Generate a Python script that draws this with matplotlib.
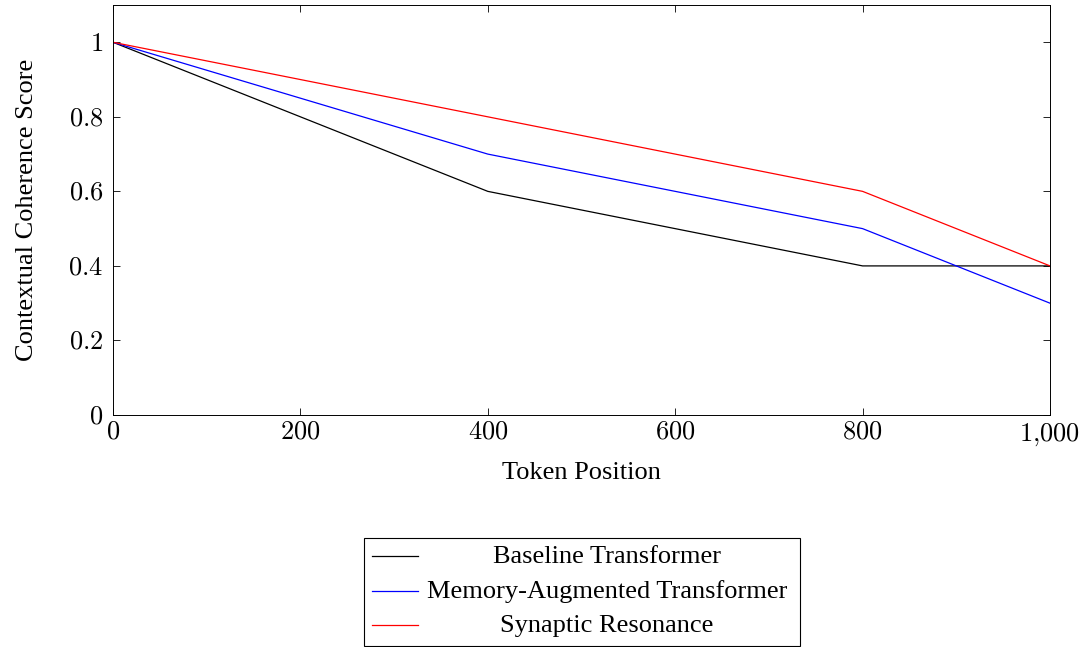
import matplotlib.pyplot as plt
from matplotlib.lines import Line2D
from matplotlib.patches import Rectangle

plt.rcParams['font.family'] = ['Liberation Serif', 'DejaVu Serif']
plt.rcParams['mathtext.fontset'] = 'cm'

tokens = [0, 400, 800, 1000]
baseline = [1.0, 0.6, 0.4, 0.4]
memory = [1.0, 0.7, 0.5, 0.3]
synaptic = [1.0, 0.8, 0.6, 0.4]

labels = ['Baseline Transformer', 'Memory-Augmented Transformer', 'Synaptic Resonance']
colors = ['black', 'blue', 'red']
xticks = [0, 200, 400, 600, 800, 1000]
xtick_labels = ['0', '200', '400', '600', '800', '1{,}000']
yticks = [0, 0.2, 0.4, 0.6, 0.8, 1.0]
ytick_labels = ['0', '0.2', '0.4', '0.6', '0.8', '1']

W, H = 1086, 647
fig = plt.figure(figsize=(W / 100, H / 100), dpi=100)
ax = fig.add_axes([113 / W, 1 - 415 / H, (1050 - 113) / W, (415 - 5) / H])

for ys, c in zip([baseline, memory, synaptic], colors):
    ax.plot(tokens, ys, color=c, lw=0.9)

ax.set_xlim(0, 1000)
ax.set_ylim(0, 1.1)
ax.set_xticks(xticks)
ax.set_xticklabels(['$' + t + '$' for t in xtick_labels])
ax.set_yticks(yticks)
ax.set_yticklabels(['$' + t + '$' for t in ytick_labels])
ax.tick_params(direction='in', top=True, right=True, labelsize=19, length=5, width=0.6)
ax.tick_params(axis='x', pad=5)
ax.tick_params(axis='y', pad=7)
for s in ax.spines.values():
    s.set_linewidth(0.7)
ax.set_xlabel('Token Position', fontsize=19, labelpad=10)
ax.set_ylabel('Contextual Coherence Score', fontsize=19, labelpad=22)

# legend box below the axes, text centred as in pgfplots
def fx(x):
    return x / W

def fy(y):
    return 1 - y / H

fig.add_artist(Rectangle((fx(364), fy(646)), fx(800) - fx(364), fy(538) - fy(646),
                         transform=fig.transFigure, fill=False, edgecolor='black', lw=0.8))
rows = [556, 591, 625]
for lab, c, y in zip(labels, colors, rows):
    fig.add_artist(Line2D([fx(372), fx(418)], [fy(y), fy(y)], transform=fig.transFigure,
                          color=c, lw=0.9))
    fig.text(fx(607), fy(y + 1), lab, ha='center', va='center', fontsize=19)

fig.savefig('out.png', dpi=100)
